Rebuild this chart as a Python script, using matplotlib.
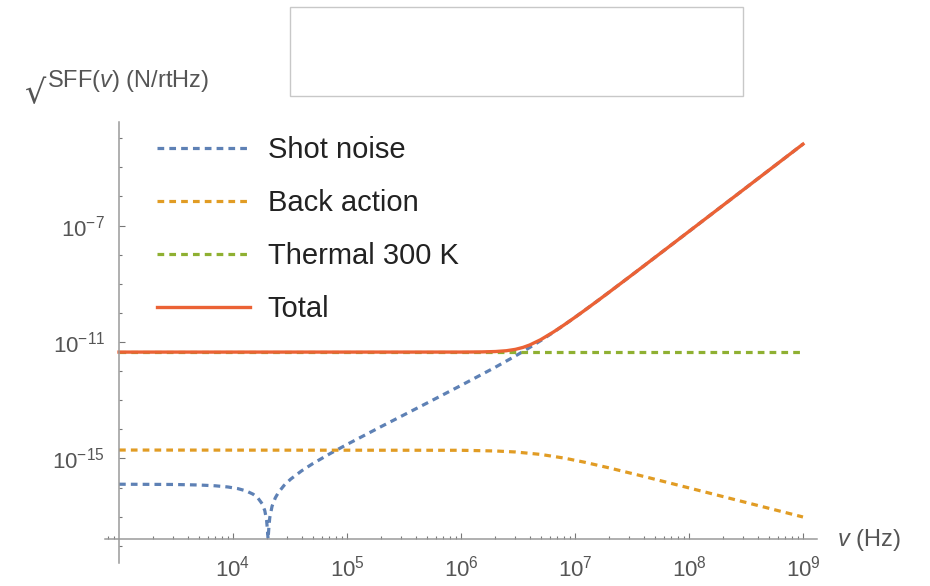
import matplotlib
matplotlib.use('Agg')
import matplotlib.pyplot as plt
from matplotlib.patches import Rectangle
import matplotlib.ticker as mticker

plt.rcParams['font.family'] = ['Liberation Sans', 'DejaVu Sans']
plt.rcParams['mathtext.fontset'] = 'custom'
plt.rcParams['mathtext.rm'] = 'Liberation Sans'
plt.rcParams['mathtext.it'] = 'Liberation Sans:italic'
plt.rcParams['mathtext.bf'] = 'Liberation Sans:bold'

# ---------------- data ----------------
shot_freq = [1e3, 3e3, 5e3, 7e3, 9e3, 1.1e4, 1.3e4, 1.5e4, 1.65e4, 1.8e4, 1.9e4,
             1.97e4, 2.0e4, 2.03e4, 2.06e4, 2.1e4, 2.2e4, 2.35e4, 2.5e4, 2.8e4,
             3.2e4, 4e4, 5e4, 7e4, 1e5, 2e5, 5e5, 1e6, 2e6, 3e6, 3.5e6, 4e6, 5e6,
             6.5e6, 8e6, 1e7, 1.2e7, 1.6e7, 2e7, 3e7, 4e7, 6e7, 1e8, 3e8, 1e9]
shot_val = [1.297e-16, 1.272e-16, 1.221e-16, 1.145e-16, 1.044e-16, 9.18e-17,
            7.67e-17, 5.90e-17, 4.41e-17, 2.78e-17, 1.61e-17, 7.57e-18, 3.81e-18,
            1.7e-18, 3.87e-18, 9.12e-18, 2.27e-17, 4.42e-17, 6.72e-17, 1.173e-16,
            1.931e-16, 3.747e-16, 6.587e-16, 1.416e-15, 3.025e-15, 1.249e-14,
            7.874e-14, 3.216e-13, 1.359e-12, 3.311e-12, 4.72e-12, 6.464e-12,
            1.115e-11, 2.186e-11, 3.810e-11, 7.054e-11, 1.181e-10, 2.708e-10,
            5.203e-10, 1.727e-9, 4.069e-9, 1.3675e-8, 6.316e-8, 1.704e-6, 6.309e-5]

ba_freq = [1e3, 1e6, 2e6, 3e6, 5e6, 8e6, 1.2e7, 2e7, 4e7, 1e8, 1e9]
ba_val = [1.94e-15, 1.902e-15, 1.801e-15, 1.664e-15, 1.372e-15, 1.028e-15,
          7.46e-16, 4.71e-16, 2.41e-16, 9.69e-17, 9.70e-18]

thermal_freq = [1e3, 1e9]
thermal_val = [4.5e-12, 4.5e-12]

total_freq = [1e3, 1e6, 1.5e6, 2e6, 2.5e6, 3e6, 3.5e6, 4e6, 5e6, 6.5e6, 8e6, 1e7,
              1.2e7, 1.6e7, 2e7, 3e7, 4e7, 6e7, 1e8, 3e8, 1e9]
total_val = [4.5e-12, 4.511e-12, 4.561e-12, 4.701e-12, 5.011e-12, 5.587e-12,
             6.521e-12, 7.876e-12, 1.2023e-11, 2.232e-11, 3.836e-11, 7.068e-11,
             1.182e-10, 2.708e-10, 5.203e-10, 1.727e-9, 4.069e-9, 1.3675e-8,
             6.316e-8, 1.704e-6, 6.309e-5]

series_labels = ["Shot noise", "Back action", "Thermal 300 K", "Total"]
x_major_ticks = [1e4, 1e5, 1e6, 1e7, 1e8, 1e9]
y_major_ticks = [1e-7, 1e-11, 1e-15]
y_minor_exps = [-18, -17, -16, -14, -13, -12, -10, -9, -8, -6, -5, -4]

# ---------------- styling ----------------
c_blue = '#5E81B5'
c_orange = '#E19C24'
c_green = '#8FB032'
c_red = '#EB6235'
axis_col = '#9a9a9a'
text_col = '#555555'

W, H = 930, 586
fig = plt.figure(figsize=(W / 100, H / 100), dpi=100)
ax = fig.add_axes([105 / W, 23 / H, (817 - 105) / W, (563 - 122) / H])
ax.set_xscale('log')
ax.set_yscale('log')
ax.set_xlim(10 ** 2.877, 10 ** 9.123)
ax.set_ylim(10 ** -18.594, 10 ** -3.44)

lw_d = 2.3
dash = (2.1, 1.6)
ax.plot(shot_freq, shot_val, color=c_blue, lw=lw_d, dashes=dash, label=series_labels[0])
ax.plot(ba_freq, ba_val, color=c_orange, lw=lw_d, dashes=dash, label=series_labels[1])
ax.plot(thermal_freq, thermal_val, color=c_green, lw=lw_d, dashes=dash, label=series_labels[2])
ax.plot(total_freq, total_val, color=c_red, lw=2.4, label=series_labels[3])

for s in ['top', 'right']:
    ax.spines[s].set_visible(False)
ax.spines['left'].set_position(('data', 1e3))
ax.spines['bottom'].set_position(('data', 10 ** -17.77))
for s in ['left', 'bottom']:
    ax.spines[s].set_color(axis_col)
    ax.spines[s].set_linewidth(1.1)

ax.xaxis.set_major_locator(mticker.FixedLocator(x_major_ticks))
ax.xaxis.set_minor_locator(mticker.LogLocator(base=10, subs=[2, 3, 4, 5, 6, 7, 8, 9], numticks=20))
ax.xaxis.set_minor_formatter(mticker.NullFormatter())
ax.yaxis.set_major_locator(mticker.FixedLocator(y_major_ticks))
ax.yaxis.set_minor_locator(mticker.FixedLocator([10.0 ** e for e in y_minor_exps]))
ax.yaxis.set_minor_formatter(mticker.NullFormatter())
ax.xaxis.set_major_formatter(mticker.LogFormatterSciNotation())
ax.yaxis.set_major_formatter(mticker.LogFormatterSciNotation())

ax.tick_params(which='both', direction='in', color='#777777', width=0.8,
               labelcolor=text_col, labelsize=16)
ax.tick_params(which='major', length=4.5)
ax.tick_params(which='minor', length=2.5)
ax.tick_params(axis='x', which='major', pad=12)
ax.tick_params(axis='y', which='major', pad=10)

leg = ax.legend(loc='upper left', bbox_to_anchor=(157 / W, 1 - 136 / H),
                bbox_transform=fig.transFigure, frameon=False, fontsize=21,
                handlelength=3.2, handletextpad=0.6, labelspacing=0.86,
                borderpad=0, borderaxespad=0)
for t in leg.get_texts():
    t.set_color('#222222')

# axis labels
fig.text(837 / W, 1 - 540 / H, r'$v$ (Hz)', fontsize=17, color=text_col,
         ha='left', va='center')
fig.text(25 / W, 1 - 103 / H, '\u221a', fontsize=24, color=text_col,
         ha='left', va='baseline', family=['DejaVu Sans'])
fig.text(47 / W, 1 - 87 / H, r'SFF($v$) (N/rtHz)', fontsize=17, color=text_col,
         ha='left', va='baseline')

# empty box at top
fig.add_artist(Rectangle((290 / W, 1 - 96 / H), (743 - 290) / W, (96 - 7) / H,
                         transform=fig.transFigure, fill=False,
                         edgecolor='#c8c8c8', lw=1.0))

fig.savefig('out.png', dpi=100)
